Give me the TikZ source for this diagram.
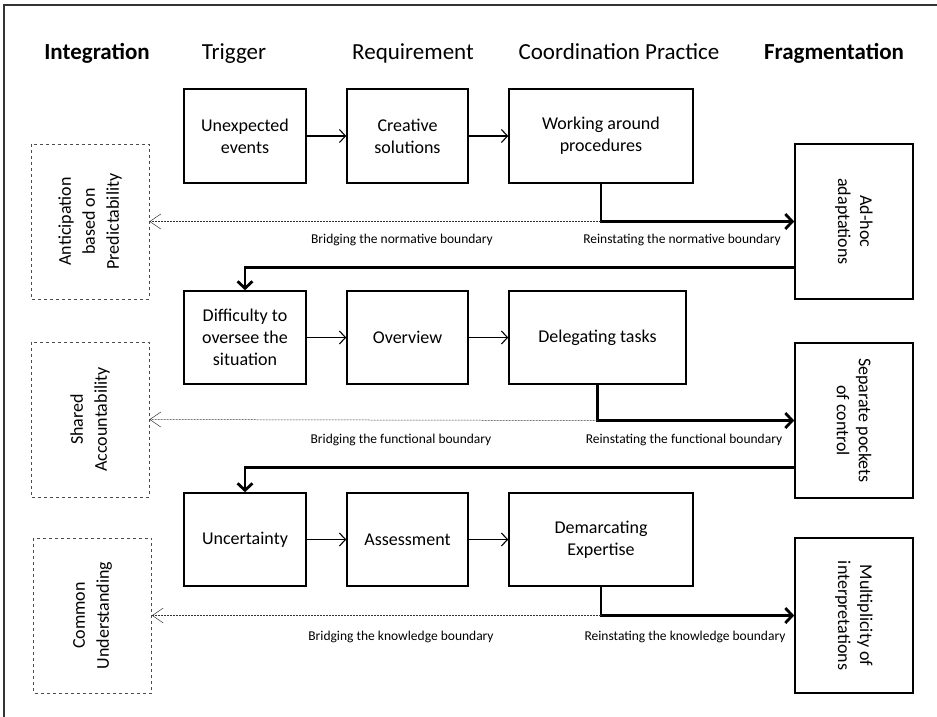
\documentclass[tikz,border=0pt]{standalone}
\usepackage{fontspec}
\setmainfont{Carlito}
\usetikzlibrary{arrows.meta}
\tikzset{
    stagebox/.style={draw, line width=1.6pt, align=center, font=\fontsize{18}{22}\selectfont, inner sep=2pt},
    sidebox/.style={stagebox, minimum width=155pt, minimum height=118pt},
    valuebox/.style={draw=black!70, dashed, line width=0.7pt, align=center, font=\fontsize{18}{24}\selectfont, minimum width=155pt, minimum height=118pt},
    heading/.style={anchor=base, font=\fontsize{23}{27}\selectfont},
    flow/.style={line width=1.1pt, -{Straight Barb[length=6pt,width=13pt]}},
    thickflow/.style={line width=2.8pt, -{Straight Barb[length=7pt,width=15pt]}},
    bridge/.style={dashed, dash pattern=on 2pt off 1pt, line width=0.5pt, black!80, -{Straight Barb[length=11pt,width=15pt,line width=0.5pt]}},
    boundlabel/.style={anchor=base, font=\fontsize{13.5}{16}\selectfont}
}
\begin{document}
\begin{tikzpicture}[x=1pt, y=-1pt]
    \useasboundingbox (0,0) rectangle (937,716);
    \draw[line width=1.3pt, black!80] (4,5) rectangle (950,730);
    % column headings
    \node[heading] (hInteg) at (97,59) {\textbf{Integration}};
    \node[heading] (hTrig) at (234,59) {Trigger};
    \node[heading] (hReq) at (413,59) {Requirement};
    \node[heading] (hCoord) at (619,59) {Coordination Practice};
    \node[heading] (hFrag) at (834,59) {\textbf{Fragmentation}};
    % normative boundary
    \node[stagebox, minimum width=122pt, minimum height=94pt] (unexp) at (245,136) {Unexpected\\events};
    \node[stagebox, minimum width=121pt, minimum height=94pt] (creat) at (407.5,136) {Creative\\solutions};
    \node[stagebox, minimum width=184pt, minimum height=94pt] (workar) at (601,136) {Working around\\procedures};
    \node[sidebox, rotate=-90] (adhoc) at (854,221.5) {Ad-hoc\\adaptations};
    \node[valuebox, rotate=90] (anticip) at (90,221.5) {Anticipation\\based on\\Predictability};
    \draw[flow] (unexp) -- (creat);
    \draw[flow] (creat) -- (workar);
    \draw[thickflow] (workar.south) |- (adhoc.south);
    \draw[bridge] (workar.south |- adhoc.south) -- (anticip.south);
    \node[boundlabel] (lBridgeN) at (402,243) {Bridging the normative boundary};
    \node[boundlabel] (lReinstN) at (682,243) {Reinstating the normative boundary};
    % functional boundary
    \node[stagebox, minimum width=122pt, minimum height=93pt] (diffic) at (245,337.5) {Difficulty to\\oversee the\\situation};
    \node[stagebox, minimum width=121pt, minimum height=93pt] (overv) at (407.5,337.5) {Overview};
    \node[stagebox, minimum width=177pt, minimum height=93pt] (deleg) at (597.5,337.5) {Delegating tasks};
    \node[sidebox, rotate=-90] (separ) at (854,420.5) {Separate pockets\\of control};
    \node[valuebox, rotate=90] (shared) at (90,419.5) {Shared\\Accountability};
    \draw[thickflow] ([yshift=32pt]adhoc.south east) -| (diffic.north);
    \draw[flow] (diffic) -- (overv);
    \draw[flow] (overv) -- (deleg);
    \draw[thickflow] (deleg.south) |- (separ.south);
    \draw[bridge] (deleg.south |- separ.south) -- (shared.south);
    \node[boundlabel] (lBridgeF) at (401,443) {Bridging the functional boundary};
    \node[boundlabel] (lReinstF) at (684,443) {Reinstating the functional boundary};
    % knowledge boundary
    \node[stagebox, minimum width=122pt, minimum height=93pt] (uncert) at (245,539.5) {Uncertainty};
    \node[stagebox, minimum width=121pt, minimum height=93pt] (assess) at (407.5,539.5) {Assessment};
    \node[stagebox, minimum width=184pt, minimum height=93pt] (demarc) at (601,539.5) {Demarcating\\Expertise};
    \node[sidebox, rotate=-90] (multi) at (854,615.5) {Multiplicity of\\interpretations};
    \node[valuebox, rotate=90] (common) at (92.5,615.5) {Common\\Understanding};
    \draw[thickflow] ([yshift=31pt]separ.south east) -| (uncert.north);
    \draw[flow] (uncert) -- (assess);
    \draw[flow] (assess) -- (demarc);
    \draw[thickflow] (demarc.south) |- (multi.south);
    \draw[bridge] (demarc.south |- multi.south) -- (common.south);
    \node[boundlabel] (lBridgeK) at (401,640) {Bridging the knowledge boundary};
    \node[boundlabel] (lReinstK) at (685,640) {Reinstating the knowledge boundary};
\end{tikzpicture}
\end{document}
